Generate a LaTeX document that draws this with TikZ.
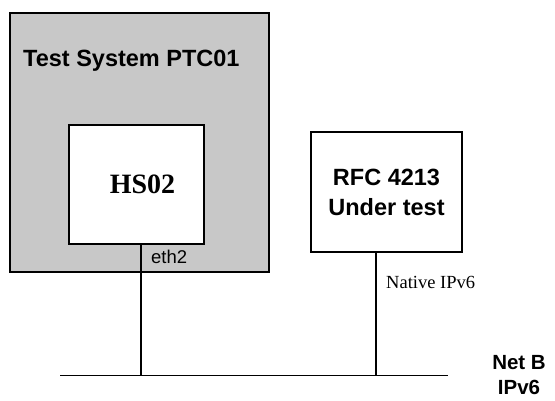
\documentclass[tikz,border=0pt]{standalone}
\usepackage{fontspec}
\setmainfont{Liberation Serif}
\setsansfont{Liberation Sans}
\usetikzlibrary{positioning}
\definecolor{boxgray}{RGB}{200,200,200}
\begin{document}
\begin{tikzpicture}[x=1pt,y=-1pt] % test network, one host and the device under test
\tikzstyle{sysbox} = [draw, line width=1.1pt, fill=boxgray, minimum width=259pt, minimum height=259pt, inner sep=0pt] % gray test system
\tikzstyle{hostbox} = [draw, line width=1.1pt, fill=white, minimum width=135pt, minimum height=119pt, inner sep=0pt] % white device box
\tikzstyle{wire} = [line width=1.1pt] % links and bus
\tikzstyle{bigsans} = [font=\sffamily\bfseries\fontsize{23.5}{30}\selectfont, align=center, inner sep=0pt]
\useasboundingbox (0,0) rectangle (555,401);
\node[sysbox] (sys) at (139.5,142.5) {};
\node[bigsans, anchor=west] (systitle) at (23,61) {Test System PTC01};
\node[hostbox, font=\rmfamily\bfseries\fontsize{28}{30}\selectfont] (hs) at (136.5,184.5) {\hspace{12pt}HS02};
\node[hostbox, minimum width=151pt, minimum height=120pt, bigsans] (rfc) at (386.5,192) {RFC 4213\\Under test};
\coordinate (busL) at (60,375.5);
\coordinate (busR) at (448,375.5);
\coordinate (tapA) at (141,375.5);
\coordinate (tapB) at (376,375.5);
\draw[wire] (busL) -- (busR);
\draw[wire] (hs.south -| tapA) -- (tapA);
\draw[wire] (rfc.south -| tapB) -- (tapB);
\node[anchor=west, inner sep=0pt, font=\sffamily\fontsize{18.5}{20}\selectfont] (eth) at (151,257) {eth2};
\node[anchor=west, inner sep=0pt, font=\rmfamily\fontsize{18.5}{20}\selectfont] (native) at (386,282) {Native IPv6};
\node[bigsans, font=\sffamily\bfseries\fontsize{20.5}{25}\selectfont, anchor=east] (net) at (546,375.5) {Net B\\IPv6};
\end{tikzpicture}
\end{document}
